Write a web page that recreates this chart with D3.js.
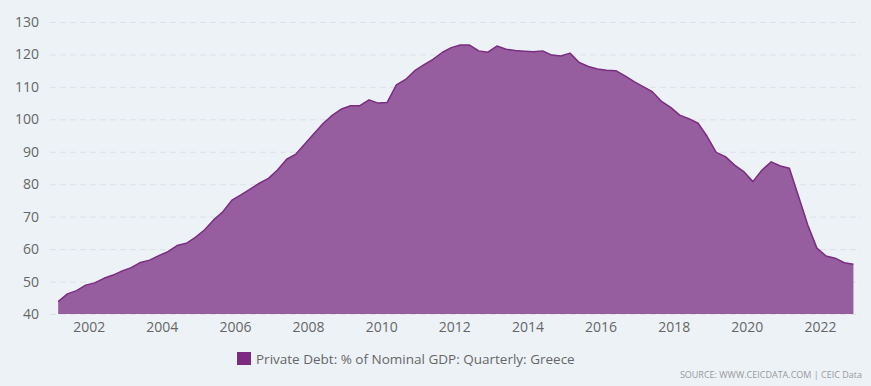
<!DOCTYPE html>
<html>
<head>
<meta charset="utf-8">
<script src="https://cdn.jsdelivr.net/npm/d3@7"></script>
<style>
  html, body { margin: 0; padding: 0; background: #edf2f7; }
  svg { display: block; }
  text { font-family: "Open Sans", "DejaVu Sans", sans-serif; }
</style>
</head>
<body>
<svg id="chart" width="871" height="386"></svg>
<script>
// ---- Data (quarterly, 2001 Q1 – 2022 Q4) ----
const startYear = 2001;
const startQuarter = 1;
const values = [
  43.8, 46.2, 47.2, 48.9, 49.6, 51.0, 52.0, 53.3, 54.3, 55.9,
  56.6, 58.0, 59.2, 61.1, 61.8, 63.6, 65.9, 69.0, 71.5, 75.1,
  76.7, 78.5, 80.3, 81.8, 84.4, 87.7, 89.3, 92.5, 95.6, 98.8,
  101.3, 103.2, 104.2, 104.2, 106.0, 105.0, 105.2, 110.6, 112.3, 115.0,
  116.8, 118.5, 120.6, 122.1, 122.9, 122.9, 121.1, 120.7, 122.6, 121.6,
  121.2, 121.0, 120.8, 121.1, 119.8, 119.5, 120.4, 117.5, 116.3, 115.5,
  115.1, 115.0, 113.4, 111.6, 110.1, 108.5, 105.5, 103.7, 101.3, 100.2,
  98.8, 94.7, 89.8, 88.5, 85.9, 83.9, 80.8, 84.4, 86.9, 85.6,
  84.9, 76.2, 67.4, 60.3, 57.9, 57.2, 55.8, 55.3
];
const yTicks = [40, 50, 60, 70, 80, 90, 100, 110, 120, 130];
const xTickYears = [2002, 2004, 2006, 2008, 2010, 2012, 2014, 2016, 2018, 2020, 2022];
const seriesName = "Private Debt: % of Nominal GDP: Quarterly: Greece";
const sourceText = "SOURCE: WWW.CEICDATA.COM | CEIC Data";

const data = values.map((v, i) => {
  const q = startQuarter - 1 + i;
  return { date: new Date(startYear + Math.floor(q / 4), (q % 4) * 3 + 2, 1), value: v };
});

// ---- Layout ----
const svg = d3.select("#chart");
const plotLeft = 50, plotRight = 861;

const x = d3.scaleTime()
  .domain([new Date(2002, 0, 1), new Date(2022, 0, 1)])
  .range([88.8, 820]);
const y = d3.scaleLinear().domain([40, 130]).range([314, 22]);

// grid
svg.append("g").selectAll("line").data(yTicks).join("line")
  .attr("x1", plotLeft).attr("x2", plotRight)
  .attr("y1", d => y(d) + 0.5).attr("y2", d => y(d) + 0.5)
  .attr("stroke", "#dde2e8").attr("stroke-width", 1)
  .attr("stroke-dasharray", "6,4");

// area
const area = d3.area().x(d => x(d.date)).y0(y(40)).y1(d => y(d.value));
const line = d3.line().x(d => x(d.date)).y(d => y(d.value));
svg.append("path").datum(data).attr("d", area)
  .attr("fill", "#965e9e");
svg.append("path").datum(data).attr("d", line)
  .attr("fill", "none").attr("stroke", "#7a2d82").attr("stroke-width", 1.5)
  .attr("stroke-linejoin", "round");

// y axis labels
const yAxis = d3.axisLeft(y).tickValues(yTicks).tickSize(0).tickPadding(0);
const gy = svg.append("g").attr("transform", "translate(39,0)").call(yAxis);
gy.select(".domain").remove();
gy.selectAll("text").attr("fill", "#666").style("font-size", "14px")
  .style("font-family", "'Open Sans', sans-serif");

// x axis labels
const xAxis = d3.axisBottom(x)
  .tickValues(xTickYears.map(yv => new Date(yv, 0, 1)))
  .tickFormat(d3.timeFormat("%Y")).tickSize(0).tickPadding(0);
const gx = svg.append("g").attr("transform", "translate(0,322)").call(xAxis);
gx.select(".domain").remove();
gx.selectAll("text").attr("fill", "#666").style("font-size", "14px")
  .style("font-family", "'Open Sans', sans-serif");

// legend
svg.append("rect").attr("x", 237).attr("y", 352).attr("width", 14).attr("height", 13)
  .attr("fill", "#7b2a80");
svg.append("text").attr("x", 256).attr("y", 363.5)
  .attr("fill", "#666").style("font-size", "13.5px").text(seriesName);

// source
svg.append("text").attr("x", 862).attr("y", 378).attr("text-anchor", "end")
  .attr("fill", "#999").style("font-size", "9px").text(sourceText);
</script>
</body>
</html>
